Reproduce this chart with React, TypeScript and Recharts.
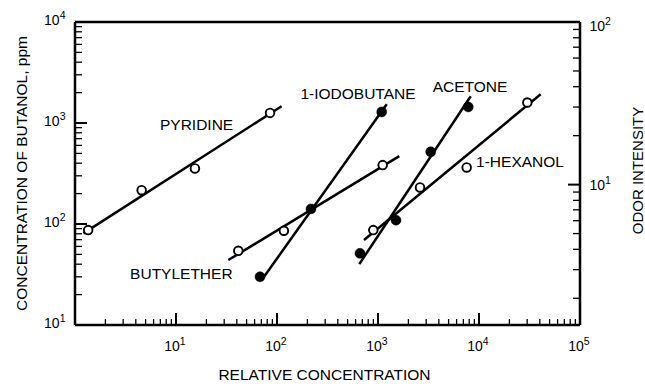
import React from 'react';
import { ComposedChart, XAxis, YAxis, Scatter } from 'recharts';

// ---- data ----
const pyridinePoints = [
  { x: 1.35, y: 87 },
  { x: 4.57, y: 216 },
  { x: 15.4, y: 355 },
  { x: 85.3, y: 1259 },
];
const pyridineFit = [
  { x: 1.21, y: 80.7 },
  { x: 111, y: 1466 },
];
const iodobutanePoints = [
  { x: 67.9, y: 30 },
  { x: 217, y: 141 },
  { x: 1088, y: 1288 },
];
const iodobutaneFit = [
  { x: 70.6, y: 27.9 },
  { x: 1220, y: 1535 },
];
const butyletherPoints = [
  { x: 41.4, y: 54.3 },
  { x: 117, y: 85.7 },
  { x: 1113, y: 383 },
];
const butyletherFit = [
  { x: 33, y: 44 },
  { x: 1625, y: 470 },
];
const acetonePoints = [
  { x: 663, y: 51.2 },
  { x: 1507, y: 109 },
  { x: 3325, y: 518 },
  { x: 7830, y: 1443 },
];
const acetoneFit = [
  { x: 653, y: 40.1 },
  { x: 8280, y: 1841 },
];
const hexanolPoints = [
  { x: 898, y: 87 },
  { x: 2606, y: 230 },
  { x: 7550, y: 363 },
  { x: 30100, y: 1596 },
];
const hexanolFit = [
  { x: 727, y: 69.3 },
  { x: 40800, y: 1927 },
];

const seriesNames = ['PYRIDINE', '1-IODOBUTANE', 'ACETONE', '1-HEXANOL', 'BUTYLETHER'];
const seriesLabelX = [16.0, 634, 8150, 25470, 11.3];
const seriesLabelY = [972, 1972, 2312, 419, 32.7];

// ---- axes ----
const xDomain = [1, 100000];
const yDomain = [10, 10000];
const rDomain = [1.37, 100];
const xLabelExps = [1, 2, 3, 4, 5];
const yLabelExps = [1, 2, 3, 4];
const rLabelExps = [1, 2];
const minorMultipliers = [1, 2, 3, 4, 5, 6, 7, 8, 9];

const xTitle = 'RELATIVE CONCENTRATION';
const yTitle = 'CONCENTRATION OF BUTANOL, ppm';
const rTitle = 'ODOR INTENSITY';

const FONT = '"Liberation Sans", Arial, sans-serif';

function logTicks(domain: number[]) {
  const out: number[] = [];
  const lo = Math.floor(Math.log10(domain[0]));
  const hi = Math.ceil(Math.log10(domain[1]));
  for (let e = lo; e <= hi; e++) {
    for (const m of minorMultipliers) {
      const v = m * Math.pow(10, e);
      if (v >= domain[0] - 1e-9 && v <= domain[1] * (1 + 1e-9)) out.push(v);
    }
  }
  return out;
}

const xTicks = logTicks(xDomain);
const yTicks = logTicks(yDomain);
const rTicks = logTicks(rDomain);

function tickInfo(v: number) {
  const lg = Math.log10(v);
  const exp = Math.round(lg);
  const major = Math.abs(lg - exp) < 1e-6;
  return { exp, major };
}

const MAJOR = 12;
const MINOR = 6;
const TICK_FONT = 14;

const Pow = ({ exp }: { exp: number }) => (
  <>
    10
    <tspan dy={-6} fontSize={10.5}>
      {exp}
    </tspan>
  </>
);

const BottomTick = (props: any) => {
  const { x, y, payload } = props;
  const { exp, major } = tickInfo(payload.value);
  return (
    <g>
      <line x1={x} x2={x} y1={y} y2={y - (major ? MAJOR : MINOR)} stroke="#000" strokeWidth={major ? 2 : 1.3} />
      {major && xLabelExps.includes(exp) && (
        <text x={x - 1} y={y + 25.5} textAnchor="middle" fontSize={TICK_FONT} fontFamily={FONT} fill="#000">
          <Pow exp={exp} />
        </text>
      )}
    </g>
  );
};

const TopTick = (props: any) => {
  const { x, y, payload } = props;
  const { major } = tickInfo(payload.value);
  return (
    <line x1={x} x2={x} y1={y} y2={y + (major ? MAJOR : MINOR)} stroke="#000" strokeWidth={major ? 2 : 1.3} />
  );
};

const LeftTick = (props: any) => {
  const { x, y, payload } = props;
  const { exp, major } = tickInfo(payload.value);
  return (
    <g>
      <line x1={x} x2={x + (major ? MAJOR : MINOR + 1)} y1={y} y2={y} stroke="#000" strokeWidth={major ? 2 : 1.3} />
      {major && yLabelExps.includes(exp) && (
        <text x={x - 9.5} y={y + 2.5} textAnchor="end" fontSize={TICK_FONT} fontFamily={FONT} fill="#000">
          <Pow exp={exp} />
        </text>
      )}
    </g>
  );
};

const RightTick = (props: any) => {
  const { x, y, payload } = props;
  const { exp, major } = tickInfo(payload.value);
  return (
    <g>
      <line x1={x} x2={x - (major ? MAJOR : MINOR + 1)} y1={y} y2={y} stroke="#000" strokeWidth={major ? 2 : 1.3} />
      {major && rLabelExps.includes(exp) && (
        <text x={x + 9.5} y={Math.max(y + 5.5, 31)} textAnchor="start" fontSize={TICK_FONT} fontFamily={FONT} fill="#000">
          <Pow exp={exp} />
        </text>
      )}
    </g>
  );
};

const NoShape = () => <g />;

const OpenDot = (props: any) => {
  const { cx, cy } = props;
  return <circle cx={cx} cy={cy} r={4.3} fill="#fff" stroke="#000" strokeWidth={1.9} />;
};

const FilledDot = (props: any) => {
  const { cx, cy } = props;
  return <circle cx={cx} cy={cy} r={5} fill="#000" stroke="#000" strokeWidth={0.5} />;
};

const NameLabel = (props: any) => {
  const { cx, cy, payload } = props;
  return (
    <text x={cx} y={cy} textAnchor="middle" dominantBaseline="central" fontSize={15.5} fontFamily={FONT} fill="#000">
      {payload.name}
    </text>
  );
};

const labelData = seriesNames.map((name, i) => ({ name, x: seriesLabelX[i], y: seriesLabelY[i] }));

const XTitle = (props: any) => {
  const { viewBox } = props;
  return (
    <text x={viewBox.x + viewBox.width / 2 - 3} y={viewBox.y + 55} textAnchor="middle" fontSize={15.5} fontFamily={FONT} fill="#000">
      {xTitle}
    </text>
  );
};

const YTitle = (props: any) => {
  const { viewBox } = props;
  const cx = viewBox.x + 21;
  const cy = viewBox.y + viewBox.height / 2;
  return (
    <text x={cx} y={cy} transform={`rotate(-90 ${cx} ${cy})`} textAnchor="middle" dominantBaseline="central" fontSize={15.5} fontFamily={FONT} fill="#000">
      {yTitle}
    </text>
  );
};

const RTitle = (props: any) => {
  const { viewBox } = props;
  const cx = viewBox.x + 57;
  const cy = viewBox.y + viewBox.height / 2 - 3;
  return (
    <text x={cx} y={cy} transform={`rotate(-90 ${cx} ${cy})`} textAnchor="middle" dominantBaseline="central" fontSize={15} fontFamily={FONT} fill="#000">
      {rTitle}
    </text>
  );
};

const fitLine = { stroke: '#000', strokeWidth: 2.5 };
const axisLine = { stroke: '#000', strokeWidth: 2.5 };

export default function App() {
  return (
    <div style={{ position: 'absolute', left: 0, top: 0, background: '#fff' }}>
      <ComposedChart width={645} height={384} margin={{ top: 0, right: 0, bottom: 0, left: 0 }}>
        <XAxis
          xAxisId="b"
          dataKey="x"
          type="number"
          scale="log"
          domain={xDomain}
          allowDataOverflow
          ticks={xTicks}
          interval={0}
          tickSize={0}
          tickMargin={0}
          tickLine={false}
          tick={BottomTick}
          axisLine={axisLine}
          height={59}
          label={<XTitle />}
        />
        <XAxis
          xAxisId="t"
          orientation="top"
          type="number"
          scale="log"
          domain={xDomain}
          allowDataOverflow
          ticks={xTicks}
          interval={0}
          tickSize={0}
          tickMargin={0}
          tickLine={false}
          tick={TopTick}
          axisLine={axisLine}
          height={22}
        />
        <YAxis
          yAxisId="l"
          dataKey="y"
          type="number"
          scale="log"
          domain={yDomain}
          allowDataOverflow
          ticks={yTicks}
          interval={0}
          tickSize={0}
          tickMargin={0}
          tickLine={false}
          tick={LeftTick}
          axisLine={axisLine}
          width={75}
          label={<YTitle />}
        />
        <YAxis
          yAxisId="r"
          orientation="right"
          type="number"
          scale="log"
          domain={rDomain}
          allowDataOverflow
          ticks={rTicks}
          interval={0}
          tickSize={0}
          tickMargin={0}
          tickLine={false}
          tick={RightTick}
          axisLine={axisLine}
          width={65}
          label={<RTitle />}
        />

        <Scatter xAxisId="b" yAxisId="l" data={pyridineFit} line={fitLine} shape={NoShape} isAnimationActive={false} />
        <Scatter xAxisId="b" yAxisId="l" data={iodobutaneFit} line={fitLine} shape={NoShape} isAnimationActive={false} />
        <Scatter xAxisId="b" yAxisId="l" data={butyletherFit} line={fitLine} shape={NoShape} isAnimationActive={false} />
        <Scatter xAxisId="b" yAxisId="l" data={acetoneFit} line={fitLine} shape={NoShape} isAnimationActive={false} />
        <Scatter xAxisId="b" yAxisId="l" data={hexanolFit} line={fitLine} shape={NoShape} isAnimationActive={false} />

        <Scatter xAxisId="b" yAxisId="l" data={pyridinePoints} shape={OpenDot} isAnimationActive={false} />
        <Scatter xAxisId="b" yAxisId="l" data={butyletherPoints} shape={OpenDot} isAnimationActive={false} />
        <Scatter xAxisId="b" yAxisId="l" data={hexanolPoints} shape={OpenDot} isAnimationActive={false} />
        <Scatter xAxisId="b" yAxisId="l" data={iodobutanePoints} shape={FilledDot} isAnimationActive={false} />
        <Scatter xAxisId="b" yAxisId="l" data={acetonePoints} shape={FilledDot} isAnimationActive={false} />

        <Scatter xAxisId="b" yAxisId="l" data={labelData} shape={NameLabel} isAnimationActive={false} />
      </ComposedChart>
    </div>
  );
}
